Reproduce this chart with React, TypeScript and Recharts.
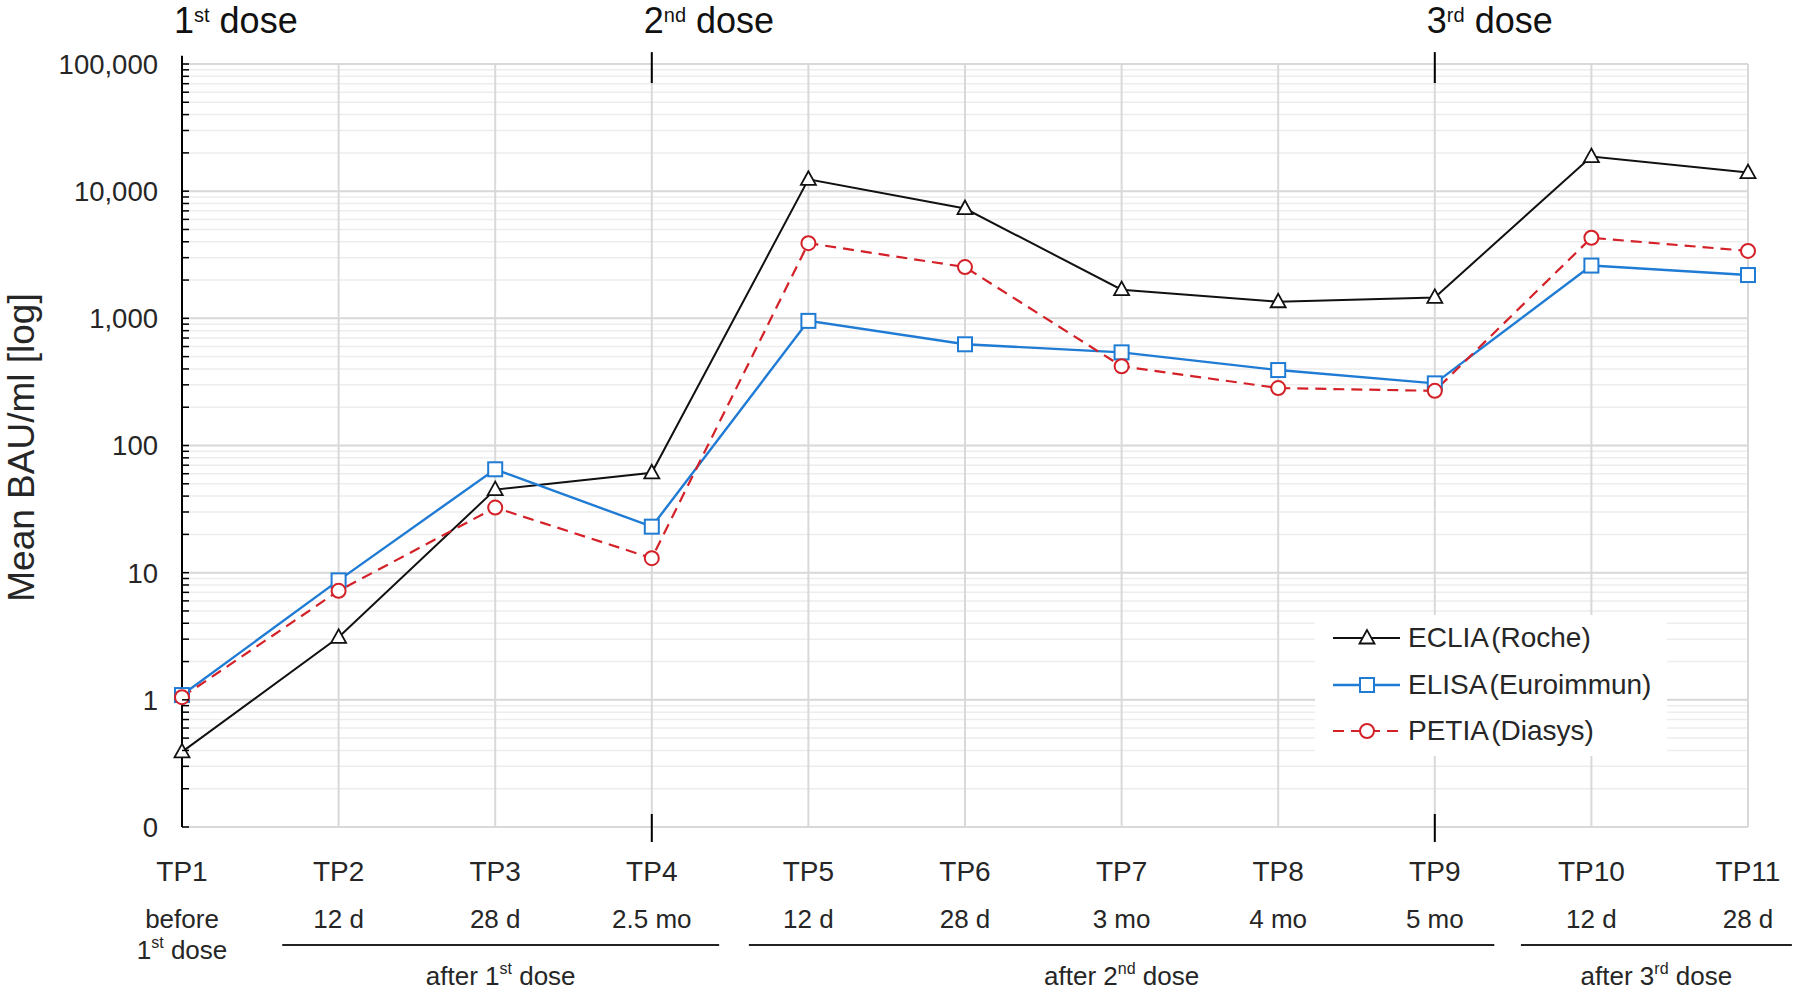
import React from 'react';
import { LineChart, Line, XAxis, YAxis, CartesianGrid, ReferenceLine, Legend } from 'recharts';

const tpValues = [1, 2, 3, 4, 5, 6, 7, 8, 9, 10, 11];
const tpLabels = ['TP1', 'TP2', 'TP3', 'TP4', 'TP5', 'TP6', 'TP7', 'TP8', 'TP9', 'TP10', 'TP11'];
const tpSubLabels = ['before', '12 d', '28 d', '2.5 mo', '12 d', '28 d', '3 mo', '4 mo', '5 mo', '12 d', '28 d'];

const eclia = [0.39, 3.1, 45, 61, 12400, 7300, 1680, 1350, 1460, 18700, 14000];
const elisa = [1.09, 8.7, 65, 23, 955, 625, 540, 392, 308, 2600, 2190];
const petia = [1.05, 7.2, 32.5, 13, 3900, 2530, 420, 283, 269, 4300, 3390];

const yMajorTicks = [0.1, 1, 10, 100, 1000, 10000, 100000];
const yMajorLabels = ['0', '1', '10', '100', '1,000', '10,000', '100,000'];
const yMinorMultipliers = [2, 3, 4, 5, 6, 7, 8, 9];
const yAllTicks: number[] = [];
yMajorTicks.forEach((d, i) => {
  yAllTicks.push(d);
  if (i < yMajorTicks.length - 1) yMinorMultipliers.forEach((m) => yAllTicks.push(d * m));
});

const doses = [
  { tp: 1, ord: '1', sup: 'st', mark: false },
  { tp: 4, ord: '2', sup: 'nd', mark: true },
  { tp: 9, ord: '3', sup: 'rd', mark: true },
];

const groups = [
  { from: 1.64, to: 4.43, ord: '1', sup: 'st' },
  { from: 4.62, to: 9.38, ord: '2', sup: 'nd' },
  { from: 9.55, to: 11.28, ord: '3', sup: 'rd' },
];
const groupLineY = 0.0118;

const series = [
  { key: 'eclia', name: 'ECLIA (Roche)', color: '#111111', dash: undefined as string | undefined, shape: 'triangle', width: 2 },
  { key: 'elisa', name: 'ELISA (Euroimmun)', color: '#1f7bd3', dash: undefined as string | undefined, shape: 'square', width: 2.4 },
  { key: 'petia', name: 'PETIA (Diasys)', color: '#d42128', dash: '11 7', shape: 'circle', width: 2.2 },
];

const data = tpValues.map((tp, i) => ({ tp, eclia: eclia[i], elisa: elisa[i], petia: petia[i] }));

const FONT = '"Liberation Sans", Arial, Helvetica, sans-serif';
const TEXT = '#262626';

function Marker({ shape, cx, cy, color }: { shape: string; cx: number; cy: number; color: string }) {
  if (shape === 'triangle') {
    return (
      <path d={`M${cx},${cy - 8} L${cx - 7.5},${cy + 5.5} L${cx + 7.5},${cy + 5.5} Z`} fill="#fff" stroke={color} strokeWidth={1.8} />
    );
  }
  if (shape === 'square') {
    return <rect x={cx - 7} y={cy - 7} width={14} height={14} fill="#fff" stroke={color} strokeWidth={2} />;
  }
  return <circle cx={cx} cy={cy} r={7} fill="#fff" stroke={color} strokeWidth={2} />;
}

const makeDot = (shape: string, color: string) => (props: any) => {
  const { cx, cy, index } = props;
  if (cx == null || cy == null) return <g key={`d-${shape}-${index}`} />;
  return <Marker key={`d-${shape}-${index}`} shape={shape} cx={cx} cy={cy} color={color} />;
};

const YTick = (props: any) => {
  const { x, y, payload } = props;
  const idx = yMajorTicks.indexOf(payload.value);
  return (
    <g>
      <line x1={x} x2={x + 7} y1={y} y2={y} stroke="#000" strokeWidth={1.5} />
      {idx >= 0 && (
        <text x={x - 24} y={y} dy="0.36em" textAnchor="end" fontSize={27.5} fontFamily={FONT} fill={TEXT}>
          {yMajorLabels[idx]}
        </text>
      )}
    </g>
  );
};

const XTick = (props: any) => {
  const { x, y, payload } = props;
  const i = tpValues.indexOf(payload.value);
  if (i < 0) return <g />;
  return (
    <g fontFamily={FONT} fill={TEXT}>
      <text x={x} y={y + 54} textAnchor="middle" fontSize={28}>{tpLabels[i]}</text>
      <text x={x} y={y + 101} textAnchor="middle" fontSize={26}>{tpSubLabels[i]}</text>
      {i === 0 && (
        <text x={x} y={y + 132} textAnchor="middle" fontSize={26}>
          1<tspan fontSize={16} dy={-11}>st</tspan>
          <tspan dy={11}> dose</tspan>
        </text>
      )}
    </g>
  );
};

const YAxisLabel = (props: any) => {
  const { viewBox } = props;
  const cx = 21;
  const cy = viewBox.y + viewBox.height / 2 + 2;
  return (
    <text x={cx} y={cy} transform={`rotate(-90, ${cx}, ${cy})`} textAnchor="middle" dy="0.35em" fontSize={37} fontFamily={FONT} fill={TEXT}>
      Mean BAU/ml [log]
    </text>
  );
};

const doseLabel = (ord: string, sup: string) => (props: any) => {
  const { viewBox } = props;
  const x = viewBox.x - 8;
  const y = viewBox.y - 31;
  return (
    <text x={x} y={y} fontSize={36} fontFamily={FONT} fill="#111">
      {ord}
      <tspan fontSize={20} dy={-11}>{sup}</tspan>
      <tspan dy={11}> dose</tspan>
    </text>
  );
};

const groupLabel = (ord: string, sup: string) => (props: any) => {
  const { viewBox } = props;
  const x = viewBox.x + viewBox.width / 2;
  const y = viewBox.y + 40;
  return (
    <text x={x} y={y} textAnchor="middle" fontSize={26} fontFamily={FONT} fill={TEXT}>
      after {ord}
      <tspan fontSize={16} dy={-11}>{sup}</tspan>
      <tspan dy={11}> dose</tspan>
    </text>
  );
};

const LegendContent = () => (
  <div style={{ background: '#fff', width: 352, height: 141, boxSizing: 'border-box', paddingTop: 0 }}>
    {series.map((s) => (
      <div key={s.key} style={{ display: 'flex', alignItems: 'center', height: 46.5 }}>
        <svg width={93} height={30} style={{ display: 'block' }}>
          <line x1={18} x2={85} y1={15} y2={15} stroke={s.color} strokeWidth={s.width} strokeDasharray={s.dash} />
          <Marker shape={s.shape} cx={52} cy={15} color={s.color} />
        </svg>
        <span style={{ fontFamily: FONT, fontSize: 28, color: TEXT, whiteSpace: 'nowrap', wordSpacing: -4 }}>{s.name}</span>
      </div>
    ))}
  </div>
);

export default function App() {
  return (
    <div style={{ position: 'absolute', left: 0, top: 0, width: 1797, height: 992, background: '#fff' }}>
      <LineChart width={1797} height={992} data={data} margin={{ top: 64, right: 49, bottom: 0, left: 0 }}>
        <CartesianGrid yAxisId="main" vertical={false} stroke="#ededed" strokeWidth={1.5} />
        <CartesianGrid yAxisId="major" stroke="#d9d9d9" strokeWidth={2} />
        <XAxis
          dataKey="tp"
          type="number"
          domain={[1, 11]}
          ticks={tpValues}
          interval={0}
          height={165}
          tickSize={0}
          tickMargin={0}
          tickLine={false}
          axisLine={false}
          tick={<XTick />}
        />
        <YAxis
          yAxisId="main"
          type="number"
          scale="log"
          domain={[0.1, 100000]}
          allowDataOverflow
          ticks={yAllTicks}
          interval={0}
          width={182}
          tickSize={0}
          tickMargin={0}
          tickLine={false}
          axisLine={{ stroke: '#000', strokeWidth: 2 }}
          tick={<YTick />}
          label={<YAxisLabel />}
        />
        <YAxis yAxisId="major" type="number" scale="log" domain={[0.1, 100000]} allowDataOverflow ticks={yMajorTicks} hide />
        <ReferenceLine
          yAxisId="main"
          segment={[{ x: 1, y: 100000 }, { x: 1, y: 116000 }]}
          ifOverflow="visible"
          stroke="#000"
          strokeWidth={2}
        />
        {doses.map((d) => (
          <ReferenceLine
            key={`dl-${d.tp}`}
            yAxisId="main"
            x={d.tp}
            stroke="none"
            ifOverflow="visible"
            label={doseLabel(d.ord, d.sup)}
          />
        ))}
        {doses
          .filter((d) => d.mark)
          .map((d) => (
            <ReferenceLine
              key={`dt-${d.tp}`}
              yAxisId="main"
              segment={[{ x: d.tp, y: 124000 }, { x: d.tp, y: 70800 }]}
              ifOverflow="visible"
              stroke="#000"
              strokeWidth={2}
            />
          ))}
        {doses
          .filter((d) => d.mark)
          .map((d) => (
            <ReferenceLine
              key={`db-${d.tp}`}
              yAxisId="main"
              segment={[{ x: d.tp, y: 0.1265 }, { x: d.tp, y: 0.0762 }]}
              ifOverflow="visible"
              stroke="#000"
              strokeWidth={2}
            />
          ))}
        {groups.map((g) => (
          <ReferenceLine
            key={`g-${g.ord}`}
            yAxisId="main"
            segment={[{ x: g.from, y: groupLineY }, { x: g.to, y: groupLineY }]}
            ifOverflow="visible"
            stroke="#222"
            strokeWidth={2}
            label={groupLabel(g.ord, g.sup)}
          />
        ))}
        {series.map((s) => (
          <Line
            key={s.key}
            yAxisId="main"
            type="linear"
            dataKey={s.key}
            name={s.name}
            stroke={s.color}
            strokeWidth={s.width}
            strokeDasharray={s.dash}
            dot={makeDot(s.shape, s.color)}
            activeDot={false}
            isAnimationActive={false}
          />
        ))}
        <Legend
          layout="horizontal"
          verticalAlign="middle"
          align="center"
          wrapperStyle={{ left: 1315, top: 615, width: 352, height: 141 }}
          content={<LegendContent />}
        />
      </LineChart>
    </div>
  );
}
